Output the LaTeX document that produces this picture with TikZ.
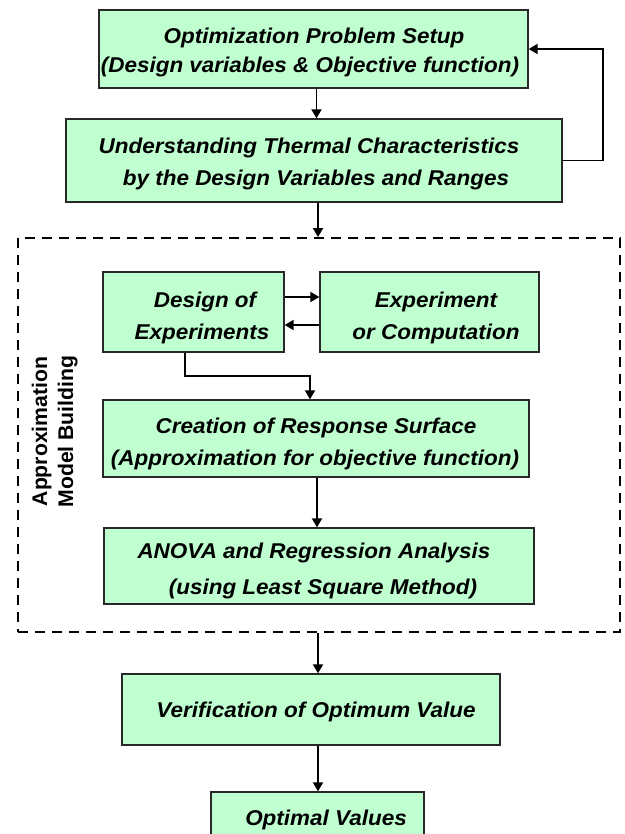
\documentclass[tikz,border=0pt]{standalone}
\usepackage{fontspec}
\setmainfont{Liberation Sans}
\newfontfamily\boxfont{Liberation Sans}[FakeStretch=1.05]
\usetikzlibrary{arrows.meta}
\definecolor{boxfill}{RGB}{191,255,208}
\definecolor{boxline}{RGB}{40,40,40}
\tikzset{
  stepbox/.style={draw=boxline, line width=1.3pt, fill=boxfill, inner sep=0pt},
  txt/.style={inner sep=0pt, anchor=base, font=\boxfont\bfseries\itshape\fontsize{21.4}{24}\selectfont},
  labtxt/.style={inner sep=0pt, anchor=base, rotate=90, font=\bfseries\fontsize{21.2}{24}\selectfont},
  arr/.style={line width=1.8pt, -{Triangle[length=9pt,width=10pt]}},
  grpbox/.style={draw, line width=1.8pt, dash pattern=on 10pt off 7pt, inner sep=0pt},
}
\begin{document}
\begin{tikzpicture}[x=1pt,y=-1pt]
\useasboundingbox (0,0) rectangle (624,834);
% boxes
\node[stepbox, minimum width=429pt, minimum height=78pt] (b1) at (313.5,49) {};
\node[stepbox, minimum width=496pt, minimum height=83pt] (b2) at (314,160.5) {};
\node[grpbox, minimum width=602pt, minimum height=394pt] (grp) at (319,435) {};
\node[stepbox, minimum width=181pt, minimum height=80pt] (doe) at (193.5,312) {};
\node[stepbox, minimum width=219pt, minimum height=80pt] (exp) at (429.5,312) {};
\node[stepbox, minimum width=426pt, minimum height=77pt] (cre) at (316,438.5) {};
\node[stepbox, minimum width=430pt, minimum height=76pt] (ano) at (319,566) {};
\node[stepbox, minimum width=378pt, minimum height=71pt] (ver) at (311,709.5) {};
\node[stepbox, minimum width=213pt, minimum height=60pt] (opt) at (317.5,822) {};
% texts
\node[txt] (t1a) at (314,44) {Optimization Problem Setup};
\node[txt] (t1b) at (310,73) {(Design variables \& Objective function)};
\node[txt] (t2a) at (309,154) {Understanding Thermal Characteristics};
\node[txt] (t2b) at (316,186) {by the Design Variables and Ranges};
\node[txt] (t3a) at (205,307) {Design of};
\node[txt] (t3b) at (202,339) {Experiments};
\node[txt] (t4a) at (436,307) {Experiment};
\node[txt] (t4b) at (436,339) {or Computation};
\node[txt] (t5a) at (316,433) {Creation of Response Surface};
\node[txt] (t5b) at (315,465) {(Approximation for objective function)};
\node[txt] (t6a) at (314,558) {ANOVA and Regression Analysis};
\node[txt] (t6b) at (323,594) {(using Least Square Method)};
\node[txt] (t7) at (316,717) {Verification of Optimum Value};
\node[txt] (t8) at (326,825) {Optimal Values};
\node[labtxt] (la) at (47,431.5) {Approximation};
\node[labtxt] (lb) at (73,431.5) {Model Building};
% connectors
\draw[arr] ([xshift=3pt]b1.south) -- ([xshift=3pt]b1.south |- b2.north);
\draw[arr] (b2.east) -- ++(40,0) |- (b1.east);
\draw[arr] ([xshift=4pt]b2.south) -- ([xshift=4pt]b2.south |- grp.north);
\draw[arr] ([yshift=15pt]doe.east) -- ([yshift=15pt]doe.east -| exp.west);
\draw[arr] ([yshift=-13pt]exp.west) -- ([yshift=-13pt]exp.west -| doe.east);
\coordinate (bend) at (310,376);
\draw[arr] ([xshift=-8.5pt]doe.south) |- (bend) -- (bend |- cre.north);
\draw[arr] ([xshift=1pt]cre.south) -- ([xshift=1pt]cre.south |- ano.north);
\draw[arr] ([xshift=-1pt]grp.south) -- ([xshift=-1pt]grp.south |- ver.north);
\draw[arr] ([xshift=-1pt]grp.south |- ver.south) -- ([xshift=-1pt]grp.south |- opt.north);
\end{tikzpicture}
\end{document}
